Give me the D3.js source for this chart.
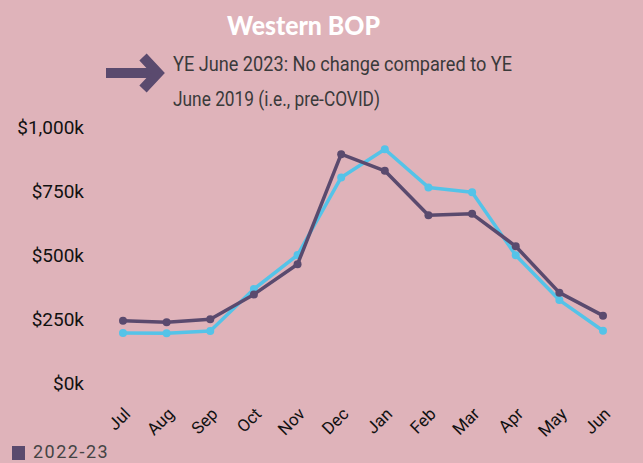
<!DOCTYPE html>
<html>
<head>
<meta charset="utf-8">
<script src="https://cdn.jsdelivr.net/npm/d3@7"></script>
<style>
  body { margin: 0; background: #dfb3ba; }
  svg { display: block; }
</style>
</head>
<body>
<svg id="chart" width="643" height="463"></svg>
<script>
(function () {
    "use strict";

    // months of the year ending June
    var months = ["Jul", "Aug", "Sep", "Oct", "Nov", "Dec", "Jan", "Feb", "Mar", "Apr", "May", "Jun"];

    // spend in $k
    var spend2223 = [243, 237, 249, 346, 464, 894, 829, 655, 661, 534, 353, 263];
    var spend1819 = [195, 194, 203, 367, 500, 803, 913, 764, 745, 499, 324, 204];

    var yTicks = [0, 250, 500, 750, 1000];

    var purple = "#5a4a6e";
    var blue = "#54c3e8";

    var svg = d3.select("#chart");

    //scales
    var x = d3.scalePoint().domain(months).range([123, 603]);
    var y = d3.scaleLinear().domain([0, 1000]).range([383, 127]);

    // title
    svg.append("text")
        .attr("x", 227)
        .attr("y", 35)
        .attr("textLength", 153)
        .attr("lengthAdjust", "spacingAndGlyphs")
        .attr("fill", "#ffffff")
        .style("font-family", "Lato, sans-serif")
        .style("font-weight", 900)
        .style("font-size", "27px")
        .text("Western BOP");

    // arrow
    svg.append("rect")
        .attr("x", 106).attr("y", 68).attr("width", 46).attr("height", 10)
        .attr("fill", purple);
    svg.append("path")
        .attr("d", "M143,57 L158,73 L143,89")
        .attr("fill", "none")
        .attr("stroke", purple)
        .attr("stroke-width", 10)
        .attr("stroke-linejoin", "miter");

    // subtitle
    var sub = svg.append("text")
        .attr("fill", "#3a3a3a")
        .style("font-family", "Roboto, sans-serif")
        .style("font-size", "21px");
    sub.append("tspan").attr("x", 173).attr("y", 71)
        .attr("textLength", 339).attr("lengthAdjust", "spacingAndGlyphs")
        .text("YE June 2023: No change compared to YE");
    sub.append("tspan").attr("x", 173).attr("y", 106)
        .attr("textLength", 207).attr("lengthAdjust", "spacingAndGlyphs")
        .text("June 2019 (i.e., pre-COVID)");

    // y axis labels
    var yAxis = d3.axisLeft(y)
        .tickValues(yTicks)
        .tickSize(0)
        .tickPadding(0)
        .tickFormat(function (d) { return "$" + d3.format(",")(d) + "k"; });

    var gy = svg.append("g").attr("transform", "translate(84,0)").call(yAxis);
    gy.select(".domain").remove();
    gy.selectAll("text")
        .attr("fill", "#111")
        .attr("dy", "0.35em")
        .style("font-family", "Roboto, sans-serif")
        .style("font-size", "19px");

    // x axis labels
    var xAxis = d3.axisBottom(x).tickSize(0).tickPadding(0);
    var gx = svg.append("g").call(xAxis);
    gx.select(".domain").remove();
    gx.selectAll(".tick text")
        .attr("fill", "#111")
        .attr("text-anchor", "end")
        .attr("dy", 0)
        .attr("y", 0)
        .attr("transform", "translate(8,415) rotate(-45)")
        .style("font-family", "Roboto, sans-serif")
        .style("font-size", "17px");

    // lines
    var line = d3.line()
        .x(function (d, i) { return x(months[i]); })
        .y(function (d) { return y(d); });

    function drawSeries(data, color) {
        svg.append("path")
            .datum(data)
            .attr("d", line)
            .attr("fill", "none")
            .attr("stroke", color)
            .attr("stroke-width", 3.5)
            .attr("stroke-linejoin", "round");

        svg.append("g").selectAll("circle")
            .data(data)
            .enter()
            .append("circle")
            .attr("cx", function (d, i) { return x(months[i]); })
            .attr("cy", function (d) { return y(d); })
            .attr("r", 4)
            .attr("fill", color);
    }

    drawSeries(spend1819, blue);
    drawSeries(spend2223, purple);

    // legend
    svg.append("rect")
        .attr("x", 12).attr("y", 446).attr("width", 13).attr("height", 14)
        .attr("fill", purple);
    svg.append("text")
        .attr("x", 33)
        .attr("y", 458)
        .attr("fill", "#444")
        .style("font-family", "Roboto, sans-serif")
        .style("font-size", "18px")
        .style("letter-spacing", "1.5px")
        .text("2022-23");
})();
</script>
</body>
</html>
